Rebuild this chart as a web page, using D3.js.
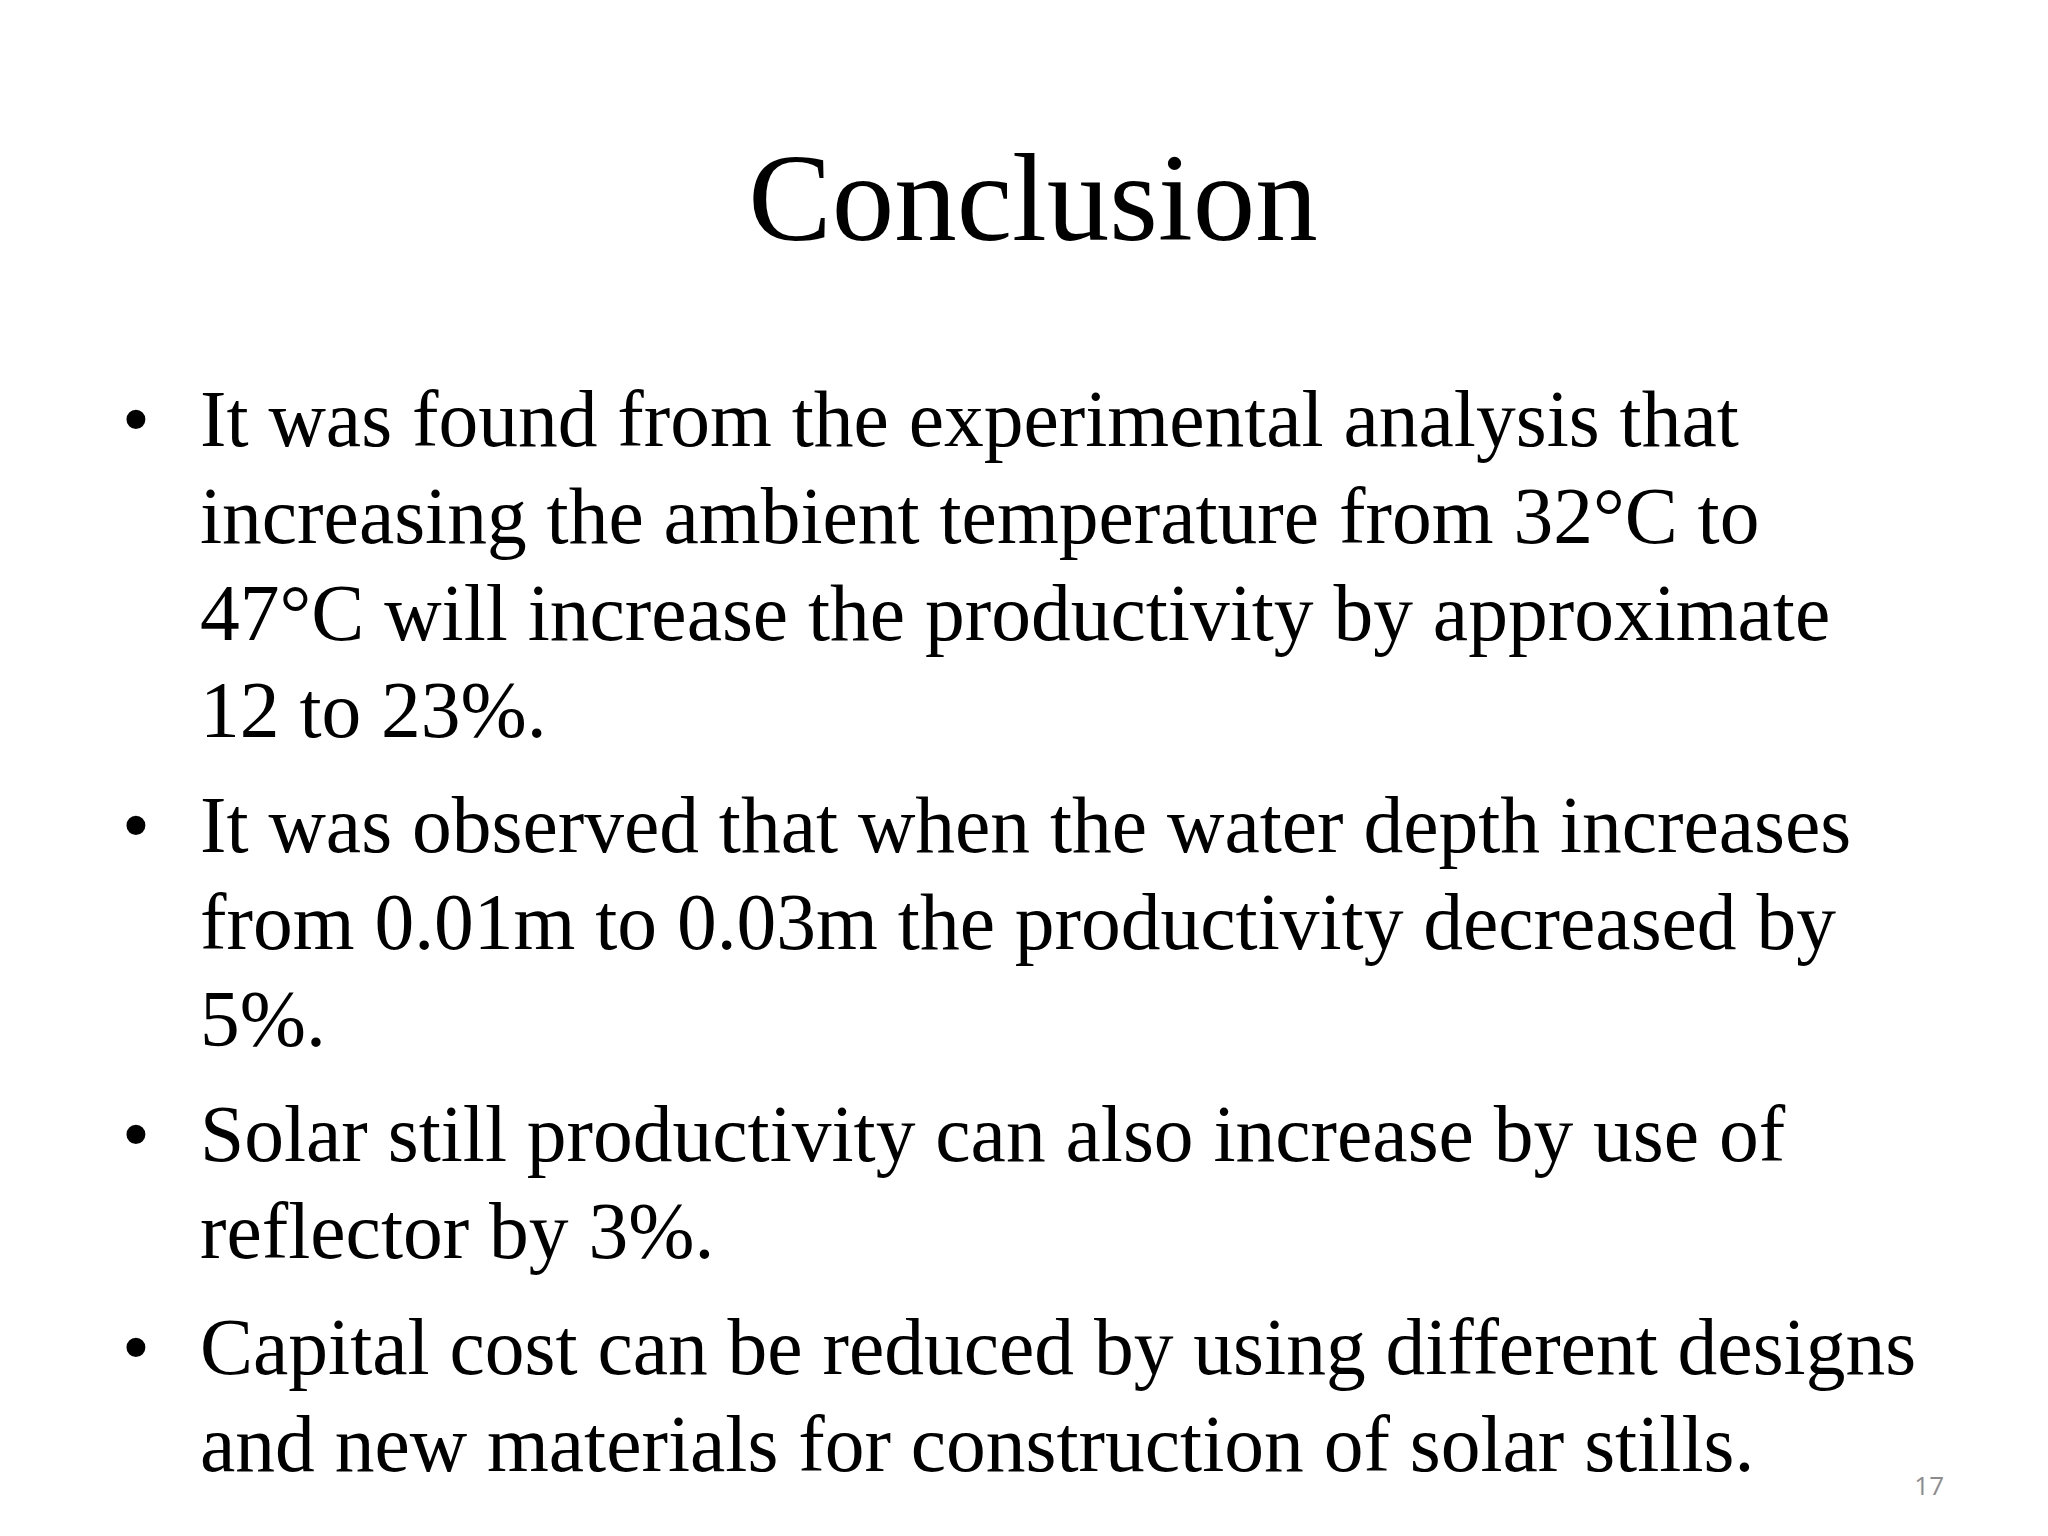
<!DOCTYPE html>
<html><head><meta charset="utf-8">
<script src="https://cdn.jsdelivr.net/npm/d3@7"></script>
<style>body{margin:0;background:#fff}</style>
</head><body>
<script>
const title = "Conclusion";
const bullets = [
  ["It was found from the experimental analysis that","increasing the ambient temperature from 32°C to","47°C will increase the productivity by approximate","12 to 23%."],
  ["It was observed that when the water depth increases","from 0.01m to 0.03m the productivity decreased by","5%."],
  ["Solar still productivity can also increase by use of","reflector by 3%."],
  ["Capital cost can be reduced by using different designs","and new materials for construction of solar stills."]
];
const pageNumber = "17";

const W = 2048, H = 1536;
const svg = d3.select("body").append("svg").attr("width", W).attr("height", H);
svg.append("rect").attr("width", W).attr("height", H).attr("fill", "#fff");
svg.append("text").attr("x", 1033).attr("y", 240).attr("text-anchor", "middle")
  .attr("font-family", "Liberation Serif").attr("font-size", 125).attr("fill", "#000").text(title);

const starts = [446, 852, 1161, 1374];
const lh = 97;
bullets.forEach((lines, i) => {
  const g = svg.append("g").attr("font-family", "Liberation Serif").attr("font-size", 79.5).attr("fill", "#000");
  g.append("text").attr("x", 122).attr("y", starts[i]).text("•");
  lines.forEach((l, j) => g.append("text").attr("x", 200).attr("y", starts[i] + j * lh).text(l));
});
svg.append("text").attr("x", 1944).attr("y", 1495).attr("text-anchor", "end")
  .attr("font-family", "Open Sans").attr("font-size", 26).attr("fill", "#8c8c8c").text(pageNumber);
</script>
</body></html>
